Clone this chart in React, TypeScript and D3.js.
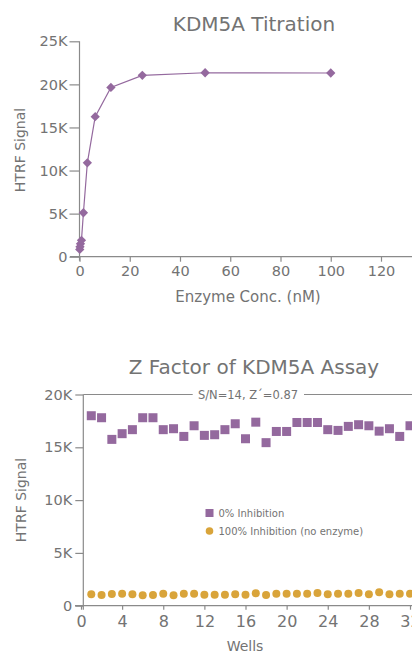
import { useEffect, useRef } from 'react'
import * as d3 from 'd3'

// titration curve
const enzymeConc = [0.098, 0.195, 0.39, 0.78, 1.56, 3.125, 6.25, 12.5, 25, 50, 100]
const titrationSignal = [850, 1150, 1500, 1900, 5100, 10900, 16250, 19650, 21050, 21350, 21320]
const titrationXTicks = [0, 20, 40, 60, 80, 100, 120]
const titrationYTicks = [0, 5000, 10000, 15000, 20000, 25000]

// z factor plate
const wells = d3.range(1, 33)
const zeroInhibition = [
  17990, 17800, 15750, 16290, 16670, 17800, 17800, 16670, 16760, 16030,
  17040, 16130, 16190, 16670, 17230, 15810, 17380, 15440, 16500, 16500,
  17350, 17350, 17350, 16670, 16600, 16980, 17140, 17040, 16530, 16760,
  16030, 17040,
]
const fullInhibition = [
  1074, 1011, 1106, 1137, 1074, 980, 1011, 1137, 980, 1137,
  1137, 1043, 1043, 1043, 1074, 1043, 1169, 1011, 1137, 1137,
  1137, 1137, 1200, 1074, 1137, 1137, 1200, 1074, 1263, 1074,
  1137, 1137,
]
const wellTicks = [0, 4, 8, 12, 16, 20, 24, 28, 32]
const zYTicks = [0, 5000, 10000, 15000, 20000]
const legendLabels = ['0% Inhibition', '100% Inhibition (no enzyme)']

const PURPLE = '#94699e'
const GOLD = '#d9a43a'
const AXIS = '#8a8a8a'
const TEXT = '#737373'
const FONT = '"DejaVu Sans", sans-serif'

const kFormat = (d: number) => (d === 0 ? '0' : `${d / 1000}K`)

export default function App() {
  const ref = useRef<SVGSVGElement | null>(null)

  useEffect(() => {
    document.body.style.margin = '0'
    if (!ref.current) {return}
    const svg = d3.select(ref.current)
    svg.selectAll('*').remove()
    svg.attr('font-family', FONT)

    const styleAxis = (g: d3.Selection<SVGGElement, unknown, null, undefined>, size: number) => {
      g.select('.domain').remove()
      g.selectAll('line').attr('stroke', AXIS).attr('stroke-width', 1.2)
      g.selectAll('text').attr('fill', TEXT).style('font-size', `${size}px`).attr('font-family', FONT)
    }

    // ---------- top: titration ----------
    const xT = d3.scaleLinear().domain([0, 120]).range([79.5, 381])
    const yT = d3.scaleLinear().domain([0, 25000]).range([256.7, 41.3])

    svg.append('text').attr('x', 254).attr('y', 31).attr('text-anchor', 'middle')
      .attr('fill', TEXT).style('font-size', '20px').text('KDM5A Titration')

    const gxT = svg.append('g').attr('transform', `translate(0,${yT(0)})`)
      .call(d3.axisBottom(xT).tickValues(titrationXTicks).tickSize(5).tickPadding(4))
    styleAxis(gxT, 14.5)
    svg.append('line').attr('x1', 70).attr('x2', 412).attr('y1', yT(0)).attr('y2', yT(0))
      .attr('stroke', AXIS).attr('stroke-width', 1.2)

    const gyT = svg.append('g').attr('transform', `translate(${xT(0)},0)`)
      .call(d3.axisLeft(yT).tickValues(titrationYTicks).tickFormat((d) => kFormat(+d)).tickSize(10).tickPadding(2))
    styleAxis(gyT, 14.5)
    svg.append('line').attr('x1', xT(0)).attr('x2', xT(0)).attr('y1', yT(25000)).attr('y2', yT(0) + 4)
      .attr('stroke', AXIS).attr('stroke-width', 1.2)

    svg.append('text').attr('transform', `translate(25,150) rotate(-90)`).attr('text-anchor', 'middle')
      .attr('fill', TEXT).style('font-size', '14px').text('HTRF Signal')
    svg.append('text').attr('x', 248).attr('y', 302).attr('text-anchor', 'middle')
      .attr('fill', TEXT).style('font-size', '15px').text('Enzyme Conc. (nM)')

    const titration = enzymeConc.map((c, i) => ({ c, v: titrationSignal[i] }))
    const line = d3.line<{ c: number; v: number }>().x((d) => xT(d.c)).y((d) => yT(d.v))
    svg.append('path').datum(titration).attr('d', line)
      .attr('fill', 'none').attr('stroke', PURPLE).attr('stroke-width', 1.2)
    const diamond = d3.symbol().type(d3.symbolDiamond2).size(55)
    svg.append('g').selectAll('path').data(titration).join('path')
      .attr('transform', (d) => `translate(${xT(d.c)},${yT(d.v)})`)
      .attr('d', diamond).attr('fill', PURPLE)

    // ---------- bottom: z factor ----------
    const xB = d3.scaleLinear().domain([0, 32]).range([81, 410])
    const yB = d3.scaleLinear().domain([0, 20000]).range([605.7, 394.5])
    const axisX = 83.3

    svg.append('text').attr('x', 254).attr('y', 374).attr('text-anchor', 'middle')
      .attr('fill', TEXT).style('font-size', '20px').text('Z Factor of KDM5A Assay')

    const gxB = svg.append('g').attr('transform', `translate(0,${yB(0)})`)
      .call(d3.axisBottom(xB).tickValues(wellTicks).tickSize(4).tickPadding(6))
    styleAxis(gxB, 16)
    svg.append('line').attr('x1', 75).attr('x2', 412).attr('y1', yB(0)).attr('y2', yB(0))
      .attr('stroke', AXIS).attr('stroke-width', 1.2)

    const gyB = svg.append('g').attr('transform', `translate(${axisX},0)`)
      .call(d3.axisLeft(yB).tickValues(zYTicks).tickFormat((d) => kFormat(+d)).tickSize(8).tickPadding(3))
    styleAxis(gyB, 14.5)
    svg.append('line').attr('x1', axisX).attr('x2', axisX).attr('y1', yB(20000)).attr('y2', yB(0) + 4)
      .attr('stroke', AXIS).attr('stroke-width', 1.2)

    // top frame line with S/N label
    const frameY = yB(20000)
    svg.append('line').attr('x1', axisX).attr('x2', 192.7).attr('y1', frameY).attr('y2', frameY)
      .attr('stroke', AXIS).attr('stroke-width', 1.2)
    svg.append('line').attr('x1', 304).attr('x2', 412).attr('y1', frameY).attr('y2', frameY)
      .attr('stroke', AXIS).attr('stroke-width', 1.2)
    svg.append('text').attr('x', 248).attr('y', frameY + 4).attr('text-anchor', 'middle')
      .attr('fill', TEXT).style('font-size', '11.5px').text('S/N=14,  Z\u00b4=0.87')

    svg.append('text').attr('transform', `translate(26,500) rotate(-90)`).attr('text-anchor', 'middle')
      .attr('fill', TEXT).style('font-size', '14px').text('HTRF Signal')
    svg.append('text').attr('x', 245).attr('y', 651).attr('text-anchor', 'middle')
      .attr('fill', TEXT).style('font-size', '14px').text('Wells')

    const sq = 9
    svg.append('g').selectAll('rect').data(wells).join('rect')
      .attr('x', (d) => xB(d) - sq / 2).attr('y', (d, i) => yB(zeroInhibition[i]) - sq / 2)
      .attr('width', sq).attr('height', sq).attr('fill', PURPLE)
    svg.append('g').selectAll('circle').data(wells).join('circle')
      .attr('cx', (d) => xB(d)).attr('cy', (d, i) => yB(fullInhibition[i]))
      .attr('r', 4).attr('fill', GOLD)

    // legend
    const lg = svg.append('g')
    lg.append('rect').attr('x', 205.5).attr('y', 509).attr('width', 8).attr('height', 8).attr('fill', PURPLE)
    lg.append('circle').attr('cx', 209.5).attr('cy', 531).attr('r', 3.8).attr('fill', GOLD)
    lg.selectAll('text').data(legendLabels).join('text')
      .attr('x', 218.5).attr('y', (d, i) => 517 + i * 18)
      .attr('fill', TEXT).style('font-size', '10px').text((d) => d)
  }, [])

  return <svg ref={ref} width={412} height={653} style={{ display: 'block', background: '#fff' }} />
}
